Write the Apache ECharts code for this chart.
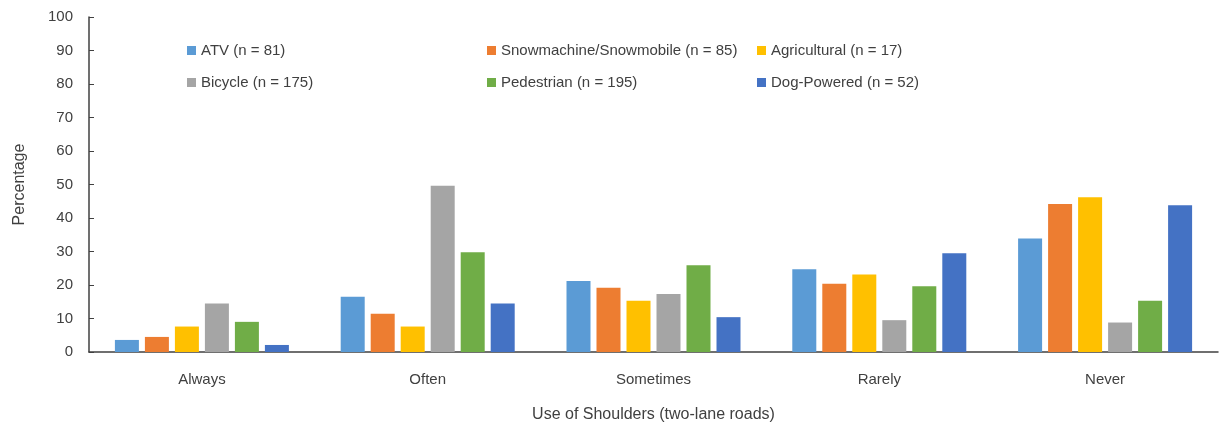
<!DOCTYPE html>
<html>
<head>
<meta charset="utf-8">
<script src="https://cdn.jsdelivr.net/npm/echarts@6/dist/echarts.min.js"></script>
<style>
  html, body { margin: 0; padding: 0; background: #fff; }
  #main { width: 1225px; height: 427px; }
</style>
</head>
<body>
<div id="main"></div>
<script>
// categories on the x axis
const categories = ['Always', 'Often', 'Sometimes', 'Rarely', 'Never']
// y axis ticks
const yTicks = [0, 10, 20, 30, 40, 50, 60, 70, 80, 90, 100]

// percentages per group
const atv = [3.6, 16.5, 21.2, 24.7, 33.9]
const snowmachine = [4.5, 11.4, 19.2, 20.4, 44.2]
const agricultural = [7.6, 7.6, 15.3, 23.1, 46.2]
const bicycle = [14.5, 49.6, 17.3, 9.5, 8.8]
const pedestrian = [9.0, 29.8, 25.9, 19.6, 15.3]
const dogPowered = [2.1, 14.5, 10.4, 29.5, 43.8]

const names = [
  'ATV (n = 81)',
  'Snowmachine/Snowmobile (n = 85)',
  'Agricultural (n = 17)',
  'Bicycle (n = 175)',
  'Pedestrian (n = 195)',
  'Dog-Powered (n = 52)'
]
const values = [atv, snowmachine, agricultural, bicycle, pedestrian, dogPowered]
const colors = ['#5B9BD5', '#ED7D31', '#FFC000', '#A5A5A5', '#70AD47', '#4472C4']

const font = 'Liberation Sans, Arial, sans-serif'
const textColor = '#404040'

const myChart = echarts.init(document.getElementById('main'))

const legendBase = {
  orient: 'vertical',
  top: 38,
  itemWidth: 9,
  itemHeight: 9,
  itemGap: 17,
  icon: 'rect',
  selectedMode: false,
  textStyle: { fontFamily: font, fontSize: 15, color: textColor }
}

const option = {
  color: colors,
  animation: false,
  grid: { left: 89, right: 7, top: 17, bottom: 75, outerBoundsMode: 'none', containLabel: false },
  legend: [
    Object.assign({}, legendBase, { left: 182, data: [names[0], names[3]] }),
    Object.assign({}, legendBase, { left: 482, data: [names[1], names[4]] }),
    Object.assign({}, legendBase, { left: 752, data: [names[2], names[5]] })
  ],
  xAxis: {
    type: 'category',
    data: categories,
    name: 'Use of Shoulders (two-lane roads)',
    nameLocation: 'middle',
    nameGap: 55,
    nameTextStyle: { fontFamily: font, fontSize: 16, color: textColor },
    axisLine: { lineStyle: { color: '#404040', width: 1.5 } },
    axisTick: { show: false },
    axisLabel: { fontFamily: font, fontSize: 15, color: textColor, margin: 20 }
  },
  yAxis: {
    type: 'value',
    min: yTicks[0],
    max: yTicks[yTicks.length - 1],
    interval: 10,
    name: 'Percentage',
    nameLocation: 'middle',
    nameGap: 61,
    nameTextStyle: { fontFamily: font, fontSize: 16, color: textColor },
    axisLine: { show: true, lineStyle: { color: '#404040', width: 1.5 } },
    axisTick: { show: true, inside: true, length: 5, lineStyle: { color: '#404040' } },
    splitLine: { show: false },
    axisLabel: { fontFamily: font, fontSize: 15, color: textColor, margin: 16 }
  },
  series: names.map((name, i) => ({
    name: name,
    type: 'bar',
    data: values[i],
    barWidth: 24,
    barGap: '25%',
    itemStyle: { color: colors[i] }
  }))
}

myChart.setOption(option)
</script>
</body>
</html>
